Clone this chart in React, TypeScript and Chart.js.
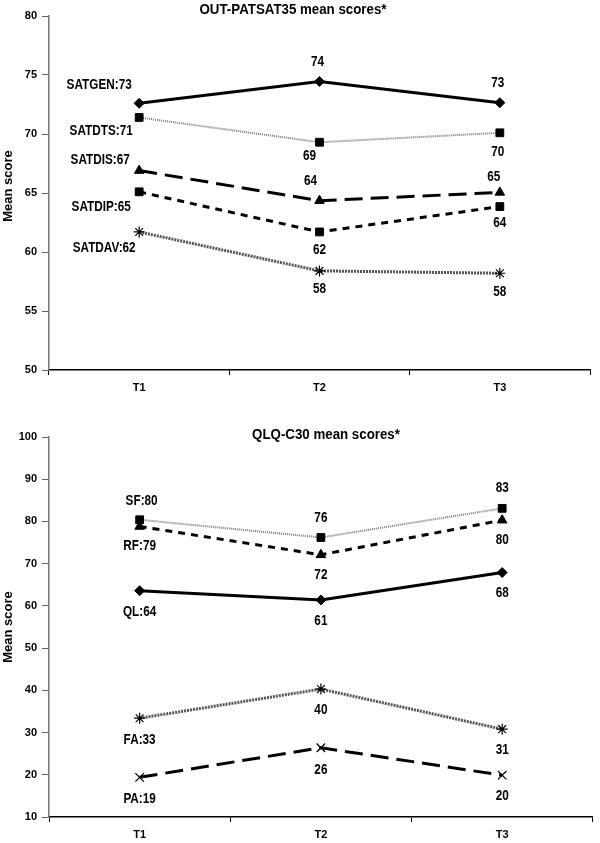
import React, { useEffect, useRef } from "react";
import { Chart, registerables } from "chart.js";
Chart.register(...registerables);

const FONT = "'Liberation Sans', Arial, sans-serif";

const categories = ["T1", "T2", "T3"];
const yTitle = "Mean score";

// OUT-PATSAT35 mean scores
const satgen = [72.6, 74.45, 72.65];
const satdts = [71.4, 69.3, 70.1];
const satdis = [66.9, 64.35, 65.05];
const satdip = [65.1, 61.7, 63.85];
const satdav = [61.7, 58.4, 58.2];
const satgenLabels = ["SATGEN:73", "74", "73"];
const satdtsLabels = ["SATDTS:71", "69", "70"];
const satdisLabels = ["SATDIS:67", "64", "65"];
const satdipLabels = ["SATDIP:65", "62", "64"];
const satdavLabels = ["SATDAV:62", "58", "58"];
const topTicks = { min: 50, max: 80, step: 5 };

// QLQ-C30 mean scores
const sf = [80.4, 76.2, 83.1];
const rf = [78.8, 72.1, 80.3];
const ql = [63.6, 61.4, 67.9];
const fa = [33.4, 40.3, 30.8];
const pa = [19.4, 26.4, 19.9];
const sfLabels = ["SF:80", "76", "83"];
const rfLabels = ["RF:79", "72", "80"];
const qlLabels = ["QL:64", "61", "68"];
const faLabels = ["FA:33", "40", "31"];
const paLabels = ["PA:19", "26", "20"];
const bottomTicks = { min: 10, max: 100, step: 10 };

type Kind = "solid" | "dotted" | "longdash" | "shortdash" | "texture";

function makeDataset(data: number[], kind: Kind, marker: string, radius: number) {
  let color = "#000";
  let width = 3;
  let dash: number[] = [];
  if (kind === "dotted") { color = "#7a7a7a"; width = 2; dash = [1, 1]; }
  if (kind === "longdash") { dash = [18, 8]; }
  if (kind === "shortdash") { dash = [7, 6]; }
  if (kind === "texture") { color = "#555"; width = 3; dash = [2, 1]; }
  return {
    data,
    borderColor: color,
    borderWidth: width,
    borderDash: dash,
    pointStyle: marker,
    pointRadius: radius,
    pointBackgroundColor: "#000",
    pointBorderColor: "#000",
    pointBorderWidth: marker === "star" || marker === "crossRot" ? 1.2 : 1,
    tension: 0,
    fill: false,
    clip: false as any,
  };
}

type LabelSet = { texts: string[]; dx: number[]; dy: number[] };

function drawNarrow(ctx: any, text: string, x: number, y: number, sx: number) {
  ctx.save();
  ctx.translate(x, y);
  ctx.scale(sx, 1);
  ctx.fillText(text, 0, 0);
  ctx.restore();
}

function labelPlugin(title: string, titleX: number, titleY: number, yTitleY: number, sets: LabelSet[]) {
  return {
    id: "customLabels",
    afterDatasetsDraw(chart: any) {
      const ctx = chart.ctx;
      ctx.save();
      ctx.fillStyle = "#000";
      ctx.textAlign = "center";
      ctx.textBaseline = "middle";
      ctx.font = `bold 14px ${FONT}`;
      sets.forEach((ls, di) => {
        const meta = chart.getDatasetMeta(di);
        meta.data.forEach((pt: any, i: number) => {
          drawNarrow(ctx, ls.texts[i], pt.x + ls.dx[i], pt.y + ls.dy[i], 0.84);
        });
      });
      ctx.font = `bold 14px ${FONT}`;
      drawNarrow(ctx, title, titleX, titleY, 0.95);
      ctx.font = `bold 13px ${FONT}`;
      ctx.save();
      ctx.translate(8, yTitleY);
      ctx.rotate(-Math.PI / 2);
      ctx.fillText(yTitle, 0, 0);
      ctx.restore();
      ctx.restore();
    },
  };
}

function makeOptions(t: { min: number; max: number; step: number }, padTop: number, padRight: number, xHeight: number) {
  return {
    responsive: false,
    animation: false as const,
    layout: { padding: { top: padTop, right: padRight, left: 0, bottom: 0 } },
    plugins: { legend: { display: false }, title: { display: false }, tooltip: { enabled: false } },
    scales: {
      x: {
        type: "category" as const,
        offset: true,
        grid: { offset: true, drawOnChartArea: false, drawTicks: true, tickLength: 5, color: "#000" },
        border: { color: "#000", width: 1.5 },
        ticks: { font: { family: FONT, size: 11, weight: "bold" as const }, color: "#000", padding: 6, maxRotation: 0 },
        afterFit(s: any) { s.height = xHeight; },
      },
      y: {
        min: t.min,
        max: t.max,
        ticks: { stepSize: t.step, font: { family: FONT, size: 11, weight: "bold" as const }, color: "#000", padding: 5 },
        grid: { drawOnChartArea: false, drawTicks: true, tickLength: 7, color: "#666" },
        border: { color: "#777", width: 1.5 },
        title: { display: false },
        afterFit(s: any) { s.width = 49; },
      },
    },
  };
}

function TopChart() {
  const ref = useRef<HTMLCanvasElement>(null);
  useEffect(() => {
    if (!ref.current) return;
    const chart = new Chart(ref.current, {
      type: "line",
      data: {
        labels: categories,
        datasets: [
          makeDataset(satgen, "solid", "rectRot", 5),
          makeDataset(satdts, "dotted", "rect", 5.5),
          makeDataset(satdis, "longdash", "triangle", 5.5),
          makeDataset(satdip, "shortdash", "rect", 5.5),
          makeDataset(satdav, "texture", "star", 5.5),
        ] as any,
      },
      options: makeOptions(topTicks, 16, 10, 30) as any,
      plugins: [
        labelPlugin("OUT-PATSAT35 mean scores*", 293, 10, 186, [
          { texts: satgenLabels, dx: [-40, -2, -2], dy: [-18, -19, -20] },
          { texts: satdtsLabels, dx: [-38, -10, -2], dy: [14, 14, 19] },
          { texts: satdisLabels, dx: [-39, -9, -6], dy: [-10, -20, -15] },
          { texts: satdipLabels, dx: [-38, 0, 0], dy: [15, 18, 17] },
          { texts: satdavLabels, dx: [-35, 0, 0], dy: [16, 18, 19] },
        ]) as any,
      ],
    });
    return () => chart.destroy();
  }, []);
  return <canvas ref={ref} width={600} height={400} style={{ display: "block", width: 600, height: 400 }} />;
}

function BottomChart() {
  const ref = useRef<HTMLCanvasElement>(null);
  useEffect(() => {
    if (!ref.current) return;
    const chart = new Chart(ref.current, {
      type: "line",
      data: {
        labels: categories,
        datasets: [
          makeDataset(sf, "dotted", "rect", 5.5),
          makeDataset(rf, "shortdash", "triangle", 5.5),
          makeDataset(ql, "solid", "rectRot", 5),
          makeDataset(fa, "texture", "star", 5.5),
          makeDataset(pa, "longdash", "crossRot", 6),
        ] as any,
      },
      options: makeOptions(bottomTicks, 37, 2, 26) as any,
      plugins: [
        labelPlugin("QLQ-C30 mean scores*", 326, 35, 227, [
          { texts: sfLabels, dx: [2, 0, 0], dy: [-19, -19, -20] },
          { texts: rfLabels, dx: [0, 0, 0], dy: [20, 20, 20] },
          { texts: qlLabels, dx: [0, 0, 0], dy: [21, 21, 21] },
          { texts: faLabels, dx: [0, 0, 0], dy: [22, 21, 21] },
          { texts: paLabels, dx: [0, 0, 0], dy: [22, 22, 21] },
        ]) as any,
      ],
    });
    return () => chart.destroy();
  }, []);
  return <canvas ref={ref} width={600} height={443} style={{ display: "block", width: 600, height: 443 }} />;
}

export default function App() {
  return (
    <div style={{ position: "absolute", left: 0, top: 0, width: 600, height: 843, background: "#fff" }}>
      <TopChart />
      <BottomChart />
    </div>
  );
}
